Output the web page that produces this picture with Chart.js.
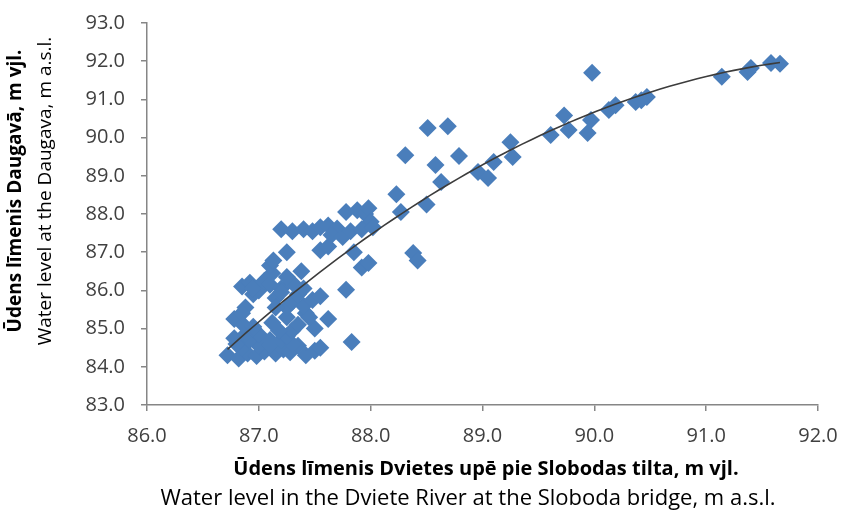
<!DOCTYPE html>
<html>
<head>
<meta charset="utf-8">
<script src="https://cdn.jsdelivr.net/npm/chart.js@4.4.1/dist/chart.umd.min.js"></script>
<style>
  html, body { margin: 0; padding: 0; background: #fff; }
  #wrap { width: 841px; height: 511px; }
</style>
</head>
<body>
<div id="wrap"><canvas id="chart" width="841" height="511"></canvas></div>
<script>
// Water level in the Dviete (x) vs. water level in the Daugava (y), m a.s.l.
const dvieteLevel = [
  86.72, 86.82, 86.90, 86.98, 87.05, 87.15, 87.22, 87.28, 87.42, 87.50, 87.55, 87.35, 87.00, 86.85,
  86.80, 86.92, 87.00, 87.10, 87.20, 87.30,
  86.78, 86.88, 87.10, 87.25, 87.30, 87.83, 87.18, 86.95,
  86.78, 86.86, 86.95, 87.12, 87.35, 87.50, 87.62, 87.25, 87.42, 87.45,
  86.88, 86.95, 87.15, 87.25, 87.30, 87.40, 87.48, 87.55, 87.00, 87.35, 86.85, 87.15,
  86.85, 86.92, 87.00, 87.05, 87.10, 87.20, 87.30, 87.40, 87.78, 87.12, 87.25, 87.38, 87.10, 86.95, 87.20,
  87.13, 87.25, 87.55, 87.62, 87.85, 87.92, 87.98, 88.38, 88.42,
  87.20, 87.30, 87.40, 87.48, 87.55, 87.62, 87.70, 87.65, 87.75, 87.82, 87.78, 87.88, 87.95, 87.98, 88.00, 87.92, 88.02,
  88.23, 88.27, 88.50, 88.31, 88.51, 88.69, 88.79, 88.58, 88.63, 88.96, 89.05, 89.10, 89.25, 89.27,
  89.61, 89.73, 89.77, 89.94, 89.97, 89.98, 90.13, 90.19, 90.37, 90.47, 90.42,
  91.14, 91.37, 91.40, 91.58, 91.66
];
const daugavaLevel = [
  84.30, 84.22, 84.35, 84.28, 84.40, 84.35, 84.45, 84.38, 84.30, 84.42, 84.50, 84.55, 84.55, 84.50,
  84.60, 84.70, 84.85, 84.55, 84.70, 84.60,
  84.75, 84.85, 84.70, 84.80, 84.95, 84.65, 84.95, 85.00,
  85.25, 85.10, 85.05, 85.15, 85.10, 85.00, 85.25, 85.30, 85.40, 85.30,
  85.55, 85.90, 85.80, 85.55, 85.70, 85.60, 85.75, 85.85, 86.00, 85.90, 85.40, 85.55,
  86.10, 86.20, 86.05, 86.25, 86.15, 86.05, 86.20, 86.05, 86.02, 86.45, 86.35, 86.50, 86.65, 86.05, 85.95,
  86.78, 87.00, 87.05, 87.15, 87.00, 86.60, 86.72, 86.98, 86.78,
  87.60, 87.55, 87.60, 87.55, 87.65, 87.70, 87.62, 87.45, 87.40, 87.55, 88.05, 88.10, 88.00, 88.15, 87.80, 87.60, 87.65,
  88.52, 88.05, 88.25, 89.54, 90.25, 90.30, 89.52, 89.28, 88.84, 89.10, 88.94, 89.36, 89.88, 89.49,
  90.07, 90.58, 90.20, 90.12, 90.46, 91.70, 90.72, 90.85, 90.93, 91.06, 90.98,
  91.59, 91.72, 91.82, 91.95, 91.93
];

const xMin = 86, xMax = 92;
const yMin = 83, yMax = 93;

const xTitle = ['Ūdens līmenis Dvietes upē pie Slobodas tilta, m vjl.',
                'Water level in the Dviete River at the Sloboda bridge, m a.s.l.'];
const yTitle = ['Ūdens līmenis Daugavā, m vjl.',
                'Water level at the Daugava, m a.s.l.'];

const FONT = "'Open Sans', 'Noto Sans', sans-serif";

// scatter points
const points = dvieteLevel.map((x, i) => ({ x: x, y: daugavaLevel[i] }));

// 2nd order polynomial trend (least squares on the points above)
function polyFit(xs, ys) {
  const m = xs.reduce((a, b) => a + b, 0) / xs.length;
  const S = [0, 0, 0, 0, 0], T = [0, 0, 0];
  xs.forEach((x, i) => {
    const u = x - m;
    for (let k = 0; k < 5; k++) S[k] += Math.pow(u, k);
    for (let k = 0; k < 3; k++) T[k] += ys[i] * Math.pow(u, k);
  });
  const A = [[S[0], S[1], S[2], T[0]], [S[1], S[2], S[3], T[1]], [S[2], S[3], S[4], T[2]]];
  for (let c = 0; c < 3; c++) {
    for (let r = c + 1; r < 3; r++) {
      const f = A[r][c] / A[c][c];
      for (let k = c; k < 4; k++) A[r][k] -= f * A[c][k];
    }
  }
  const coef = [0, 0, 0];
  for (let r = 2; r >= 0; r--) {
    let s = A[r][3];
    for (let k = r + 1; k < 3; k++) s -= A[r][k] * coef[k];
    coef[r] = s / A[r][r];
  }
  return x => coef[0] + coef[1] * (x - m) + coef[2] * (x - m) * (x - m);
}
const trend = polyFit(dvieteLevel, daugavaLevel);
const tLo = Math.min(...dvieteLevel), tHi = Math.max(...dvieteLevel);
const trendPoints = [];
for (let i = 0; i <= 60; i++) {
  const x = tLo + (tHi - tLo) * i / 60;
  trendPoints.push({ x: x, y: trend(x) });
}

// axis titles: bold Latvian line + regular English line
const axisTitles = {
  id: 'axisTitles',
  afterDraw(chart) {
    const ctx = chart.ctx;
    ctx.save();
    ctx.fillStyle = '#000';
    ctx.textAlign = 'center';
    ctx.textBaseline = 'middle';
    ctx.font = 'bold 20px ' + FONT;
    ctx.fillText(xTitle[0], 486, 469);
    ctx.font = '22px ' + FONT;
    ctx.fillText(xTitle[1], 468, 499);

    ctx.translate(16, 191);
    ctx.rotate(-Math.PI / 2);
    ctx.font = 'bold 19px ' + FONT;
    ctx.fillText(yTitle[0], 0, 0);
    ctx.font = '19px ' + FONT;
    ctx.fillText(yTitle[1], 0, 30);
    ctx.restore();
  }
};

const axisColor = '#868686';

new Chart(document.getElementById('chart').getContext('2d'), {
  type: 'scatter',
  data: {
    datasets: [
      {
        label: 'Trend',
        type: 'line',
        data: trendPoints,
        borderColor: '#3c3c3c',
        borderWidth: 1.6,
        pointRadius: 0,
        tension: 0,
        fill: false,
        order: 0
      },
      {
        label: 'Measurements',
        data: points,
        pointStyle: 'rectRot',
        pointRadius: 9,
        pointHoverRadius: 9,
        backgroundColor: '#4A7EBB',
        borderColor: '#4A7EBB',
        borderWidth: 0,
        order: 1
      }
    ]
  },
  options: {
    responsive: false,
    animation: false,
    events: [],
    layout: { padding: { top: 23, right: 23, left: 0, bottom: 0 } },
    plugins: { legend: { display: false }, tooltip: { enabled: false } },
    scales: {
      x: {
        type: 'linear', min: xMin, max: xMax,
        afterFit: s => { s.height = 106; s.paddingLeft = 0; s.paddingRight = 0; },
        border: { color: axisColor, width: 1.5 },
        grid: { drawOnChartArea: false, drawTicks: true, tickLength: 6, color: axisColor, lineWidth: 1.5 },
        ticks: { stepSize: 1, padding: 13, color: '#404040', font: { family: FONT, size: 20 },
                 maxRotation: 0, callback: v => v.toFixed(1) }
      },
      y: {
        type: 'linear', min: yMin, max: yMax,
        afterFit: s => { s.width = 147; s.paddingTop = 0; s.paddingBottom = 0; },
        border: { color: axisColor, width: 1.5 },
        grid: { drawOnChartArea: false, drawTicks: true, tickLength: 6, color: axisColor, lineWidth: 1.5 },
        ticks: { stepSize: 1, padding: 16, color: '#404040', font: { family: FONT, size: 20 },
                 callback: v => v.toFixed(1) }
      }
    }
  },
  plugins: [axisTitles]
});
</script>
</body>
</html>
